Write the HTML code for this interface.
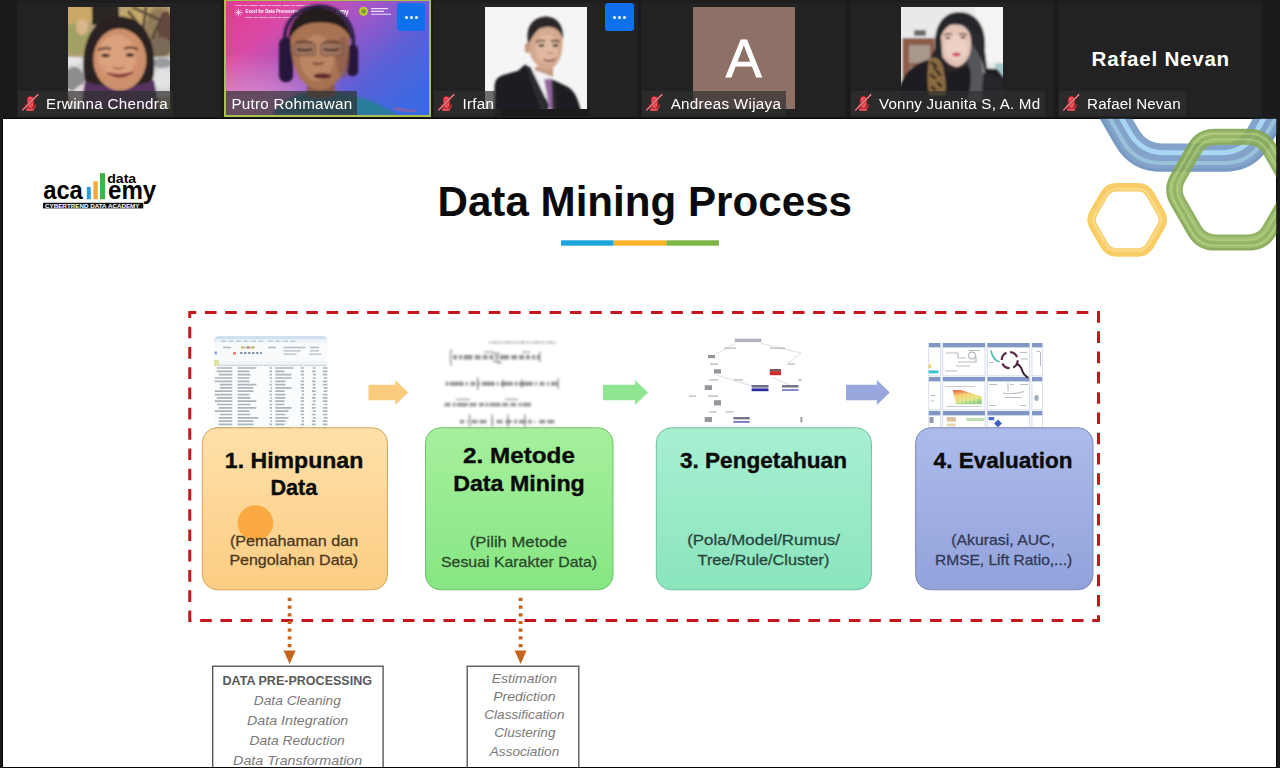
<!DOCTYPE html>
<html lang="id">
<head>
<meta charset="utf-8">
<title>Data Mining Process</title>
<style>
*{box-sizing:border-box;margin:0;padding:0}
html,body{width:1280px;height:768px;overflow:hidden;background:#1a1a1a;font-family:"Liberation Sans",sans-serif}
#app{position:relative;width:1280px;height:768px;overflow:hidden;background:#1a1a1a}
.abs{position:absolute}
/* ---------- participant strip ---------- */
.tile{position:absolute;top:0;height:117.4px;width:204.6px;background:#222222;overflow:hidden}
.tile::before{content:"";position:absolute;left:0;right:0;top:0;height:3.2px;background:#1d1d1d}
.tile.spk::before{display:none}
.tile.spk{background:#a9c04c}
.tile .ph{position:absolute;left:51.5px;top:7px;width:102px;height:102px;overflow:hidden}
.tile .av{background:#8d7167;color:#fff;text-align:center}
.tile .av span{position:absolute;left:0;right:0;top:20.3px;font-size:54px;line-height:62px;-webkit-text-stroke:.8px #fff}
.under{position:absolute;background:#1b1b1b}
.lbl{position:absolute;left:1px;top:90.6px;height:25.4px;background:rgba(48,48,48,.69);color:#fff;font-size:15.2px;line-height:25.4px;white-space:nowrap;padding-left:28.4px;overflow:hidden}
.lbl span{display:inline-block;position:relative;top:.5px;filter:blur(.3px)}
.lbl .mic{position:absolute;left:-1px;top:-1px;width:24px;height:25px}
.more{position:absolute;width:28.100px;height:28.300px;background:#0e71eb;border-radius:3px}
.more i{position:absolute;top:12.500px;width:3px;height:3px;background:#fff;border-radius:50%}
.bigname{position:absolute;left:1.6px;right:0;top:45.4px;text-align:center;color:#fff;font-weight:bold;font-size:20.6px;line-height:28px;letter-spacing:.75px}
/* ---------- slide ---------- */
#slide{position:absolute;left:3.1px;top:118.7px;width:1273.3px;height:648.2px;background:#ffffff;box-shadow:0 0 0 1px #060606}
</style>
</head>
<body>
<div id="app">

<!-- ================= PARTICIPANT STRIP ================= -->
<div id="strip">
<div class="tile" style="left:16.7px">
<svg class="ph" viewBox="0 0 102 102">
<defs><filter id="pb1" x="-5%" y="-5%" width="110%" height="110%"><feGaussianBlur stdDeviation="1.1"/></filter><clipPath id="pc1"><rect width="102" height="102"/></clipPath></defs>
<g clip-path="url(#pc1)"><g filter="url(#pb1)">
<rect x="-4" y="-4" width="110" height="110" fill="#b3a075"/>
<ellipse cx="9" cy="8" rx="16" ry="12" fill="#c9a868"/>
<ellipse cx="8" cy="32" rx="14" ry="16" fill="#a3a066"/>
<ellipse cx="14" cy="20" rx="6" ry="8" fill="#d9b58a"/>
<rect x="24" y="-4" width="27" height="22" fill="#2a2622"/>
<ellipse cx="70" cy="8" rx="18" ry="9" fill="#c4a86c"/>
<ellipse cx="92" cy="14" rx="12" ry="16" fill="#a78c60"/><ellipse cx="90" cy="24" rx="13" ry="22" fill="#8b7556" opacity=".8"/>
<path d="M60 4l14 18M78 0l-4 30M96 6l-12 26M70 26l28 18M88 30v20M64 0l30 14" stroke="#4e3f32" stroke-width="3" fill="none" opacity=".85"/>
<ellipse cx="98" cy="26" rx="8" ry="22" fill="#5a4038" opacity=".85"/>
<ellipse cx="92" cy="40" rx="12" ry="10" fill="#7a6a58"/>
<rect x="-4" y="50" width="110" height="40" fill="#d3d3d5"/>
<ellipse cx="6" cy="72" rx="10" ry="12" fill="#8d8d90"/>
<ellipse cx="4" cy="54" rx="10" ry="4" fill="#e6e6e8"/>
<ellipse cx="94" cy="56" rx="10" ry="5" fill="#9a9aa0"/>
<ellipse cx="95" cy="72" rx="10" ry="10" fill="#e2e2e4"/>
<path d="M16 70C12 34 26 9 50 9.300C76 9 89 34 86 66C85 76 81 80 75 80L26 80C20 80 17 78 16 70Z" fill="#2b2321"/>
<path d="M4 86q6-10 16-9l4 27H0z" fill="#e4d6dc"/>
<path d="M17 74q34 12 69-1l6 33H12z" fill="#57325e"/>
<ellipse cx="51.800" cy="52.500" rx="26.500" ry="31" fill="#cd906c"/>
<ellipse cx="49" cy="50" rx="19" ry="22" fill="#dba27e"/>
<path d="M24.500 44C26 24 40 13 54 14C69 14 79 27 79 46C76 33 66 22.500 50 20.500C38 21 29.500 30 24.500 44Z" fill="#2b2321"/>
<path d="M30 43q7-3.5 13-1M56 42q7-3 14 .5" stroke="#4a3028" stroke-width="2" fill="none"/>
<ellipse cx="37.5" cy="48.5" rx="4.2" ry="1.7" fill="#2e1d18"/><ellipse cx="62" cy="48" rx="4.2" ry="1.7" fill="#2e1d18"/>
<path d="M45 60q5 3.5 11 0" stroke="#a86a50" stroke-width="2" fill="none"/>
<path d="M39 66q13 9 26-1q-12 5-26 1z" fill="#8c3e3c" stroke="#8c3e3c" stroke-width="1.4"/>
<ellipse cx="33" cy="61" rx="5" ry="4" fill="#d48a78" opacity=".5"/><ellipse cx="69" cy="60" rx="5" ry="4" fill="#d48a78" opacity=".5"/>
</g></g></svg>
<div class="lbl" style="width:155.5px"><svg class="mic" viewBox="0 0 24 25"><use href="#mic"/></svg><span style="letter-spacing:0.3px">Erwinna Chendra</span></div>
</div>
<div class="tile spk" style="left:223.7px;width:207.6px;height:117.3px">
<svg class="abs" style="left:2px;top:1.300px" width="203.6" height="114.100" preserveAspectRatio="none" viewBox="0 0 203.6 113.8" font-family="Liberation Sans, sans-serif">
<defs>
<linearGradient id="vg" x1="0" y1="0.1" x2="1" y2="0.75"><stop offset="0" stop-color="#e23c93"/><stop offset=".22" stop-color="#d94aa6"/><stop offset=".5" stop-color="#9b57c9"/><stop offset=".75" stop-color="#5b60d6"/><stop offset="1" stop-color="#3a69e2"/></linearGradient>
<radialGradient id="vg2" cx="0.12" cy="0.95" r="0.5"><stop offset="0" stop-color="#efa0cc" stop-opacity=".85"/><stop offset="1" stop-color="#efa0cc" stop-opacity="0"/></radialGradient>
<filter id="pb2" x="-5%" y="-5%" width="110%" height="110%"><feGaussianBlur stdDeviation="1.2"/></filter>
<filter id="pb2s" x="-5%" y="-5%" width="110%" height="110%"><feGaussianBlur stdDeviation="0.45"/></filter>
</defs>
<rect width="203.6" height="113.8" fill="url(#vg)"/>
<rect width="203.6" height="113.8" fill="url(#vg2)"/>
<g filter="url(#pb2s)" fill="#fff">
<text x="19.5" y="12.1" font-size="4.6" font-weight="bold" textLength="54" lengthAdjust="spacingAndGlyphs">Excel for Data Processing</text>
<path d="M9.500 4.600h78M19.500 16.400h52" stroke="#fff" stroke-width="1" opacity=".55" stroke-dasharray="7 1.2 4 1 9 1.4"/>
<path d="M12.5 7.5v8M8.5 11.5h8M9.7 8.7l5.6 5.6M15.3 8.7l-5.6 5.6" stroke="#fff" stroke-width=".8" opacity=".8"/>
<text x="110" y="14" font-size="8.4" font-weight="bold" textLength="12.5" lengthAdjust="spacingAndGlyphs">emy</text>
<circle cx="137.6" cy="10.3" r="4.6" fill="#b9c93a"/><circle cx="137.6" cy="10.3" r="2.4" fill="#7d9a2a"/>
<path d="M145 7.6h17M145 10.4h13M145 13.2h20" stroke="#fff" stroke-width="1.2" opacity=".8"/>
</g>
<g filter="url(#pb2)">
<path d="M46 113.800C54 100 70 92.500 84 90.500L106 90.500C128 92.500 152 100 172 113.800Z" fill="#2b7b9c"/>
<path d="M82 82h26l2 12q-15 6-30 0z" fill="#86584a"/>
<path d="M59.500 44C55 20 74 5.500 93 5C110 5 131 18 127 50" fill="none" stroke="#2f2046" stroke-width="3.600"/>
<rect x="53" y="36.500" width="14" height="44.500" rx="6.500" fill="#28193a"/>
<rect x="120.800" y="43.500" width="11.400" height="31.500" rx="5.500" fill="#28193a"/>
<path d="M64.700 36C64 22 78 17 94 17C110 17 124 22 123.300 36C124 58 118 78 104 86C98 89.500 90 89.500 84 86C70 78 64 58 64.700 36Z" fill="#a87252"/>
<ellipse cx="91" cy="57" rx="17" ry="23" fill="#bb8663"/>
<ellipse cx="117" cy="56" rx="6.500" ry="21" fill="#875b4c" opacity=".65"/>
<path d="M62.600 41C62 22 74 7 92 6.500C110 7 125 20 125.800 41C122 28 112 21 94 21.500C78 21 67 28 62.600 41Z" fill="#241a1e"/>
<rect x="67.500" y="42" width="22" height="12.500" rx="3.500" fill="#9a7260" stroke="#6a4a40" stroke-width="1" opacity=".85"/>
<rect x="94.500" y="42" width="22" height="12.500" rx="3.500" fill="#9a7260" stroke="#6a4a40" stroke-width="1" opacity=".85"/>
<path d="M71 47.800q7.500 2.600 15 0M98 47.800q7.500 2.600 15 0" stroke="#3a2420" stroke-width="2.100" fill="none"/>
<path d="M70 41.500q8-2.500 16 0M97 41.500q8-2.500 16 0" stroke="#4a3028" stroke-width="1.600" fill="none" opacity=".8"/>
<path d="M87 61.500q5.500 3 10.500 0" stroke="#7a4a3c" stroke-width="2.200" fill="none"/>
<ellipse cx="96.300" cy="74.800" rx="9" ry="2.700" fill="#5e2c2a"/>
</g>
<path d="M168 106q10 4 22 4" stroke="#e05a6a" stroke-width="2.4" opacity=".6" fill="none" filter="url(#pb2)"/>
</svg>
<div class="lbl" style="left:2.6px;top:90.8px;height:24.4px;width:131.2px;padding-left:5.2px"><span style="letter-spacing:.26px">Putro Rohmawan</span></div>
<div class="more" style="left:173.700px;top:3.200px"><i style="left:7.300px"></i><i style="left:12.550px"></i><i style="left:17.800px"></i></div>
</div>
<div class="tile" style="left:433.1px">
<svg class="ph" viewBox="0 0 102 102">
<defs><filter id="pb3" x="-5%" y="-5%" width="110%" height="110%"><feGaussianBlur stdDeviation="0.9"/></filter><clipPath id="pc3"><rect width="102" height="102"/></clipPath></defs>
<g clip-path="url(#pc3)"><rect width="102" height="102" fill="#f5f5f5"/><g filter="url(#pb3)">
<path d="M50 60L50 72L68 76L68 58Z" fill="#c49a82"/>
<path d="M43 38C41 24 50 18 60 18C70 18 78 23 77.500 36C78 48 73 60 63 63.500C53 62 44 52 43 38Z" fill="#d4a98f"/>
<ellipse cx="62" cy="42" rx="11" ry="15" fill="#e0b9a0"/>
<ellipse cx="42.300" cy="41" rx="2.600" ry="5" fill="#c6977e"/>
<path d="M43.500 37C40 22 46 11 60 9.500C72 9.500 79 18 78 33C76 25 72 20.500 64 20C58 20 54 21 52 24C48 28 46 32 43.500 37Z" fill="#2b2629"/>
<path d="M51 35q5-2.500 9-.8M66 34.200q4.500-1.600 8.500 .6" stroke="#3a2a26" stroke-width="1.700" fill="none"/>
<ellipse cx="56.400" cy="38.600" rx="3" ry="1.300" fill="#2e2220"/><ellipse cx="70.400" cy="38.400" rx="2.800" ry="1.300" fill="#2e2220"/>
<path d="M62 45.500q3 2 6 0" stroke="#b98a72" stroke-width="1.600" fill="none"/>
<path d="M58.400 52.600q6.500 3.200 12-1" stroke="#8a4a44" stroke-width="1.800" fill="none"/>
<path d="M46 62L58 66L68 70L70 86L58 92Z" fill="#f3f1f3"/>
<path d="M59 72.500l6.500-1l8 32h-8.500z" fill="#96669f"/>
<path d="M9 104L9.500 80C10 72 13 69.500 20 67.500L33 63.700L40 57.600L64 98L63 104Z" fill="#1f1d21"/>
<path d="M66.400 72L82 79.500C90 84 93 92 96 104L69 104Z" fill="#1f1d21"/>
<path d="M40 57.600L46 61L63 96L62 104L56 104Z" fill="#2d2b31"/>
<path d="M66.400 72L69.500 76L72 104L67.500 104Z" fill="#2d2b31"/>
</g></g></svg>
<div class="under" style="left:69px;top:109px;width:87px;height:7px"></div>
<div class="lbl" style="width:61px"><svg class="mic" viewBox="0 0 24 25"><use href="#mic"/></svg><span style="letter-spacing:0.26px">Irfan</span></div>
<div class="more" style="left:172.400px;top:3.100px"><i style="left:7.300px"></i><i style="left:12.550px"></i><i style="left:17.800px"></i></div>
</div>
<div class="tile" style="left:641.3px">
<div class="ph av"><span>A</span></div>
<div class="lbl" style="width:144px"><svg class="mic" viewBox="0 0 24 25"><use href="#mic"/></svg><span style="letter-spacing:0.3px">Andreas Wijaya</span></div>
</div>
<div class="tile" style="left:849.5px">
<svg class="ph" viewBox="0 0 102 102">
<defs><filter id="pb5" x="-5%" y="-5%" width="110%" height="110%"><feGaussianBlur stdDeviation="1.1"/></filter><clipPath id="pc5"><rect width="102" height="102"/></clipPath></defs>
<g clip-path="url(#pc5)"><g filter="url(#pb5)">
<rect x="-4" y="-4" width="110" height="110" fill="#e9e9ea"/>
<rect x="74" y="-4" width="32" height="60" fill="#f4f4f2"/>
<rect x="94" y="56" width="12" height="18" fill="#a9c9c8"/>
<rect x="1.500" y="31" width="32" height="44" fill="#8c5c4a"/>
<rect x="8" y="38" width="21" height="18" fill="#a8988e"/>
<rect x="8" y="59" width="21" height="12" fill="#9a7a6a"/>
<rect x="13" y="23" width="12" height="6" fill="#6a6a66"/>
<path d="M35 50C30 20 42 5 58 5C76 5 86 20 84 44C86 60 88 74 84 86L60 86L58 50Z" fill="#2a2a2f"/>
<path d="M-2 104L-2 80C4 64 14 56 30 52L62 60L96 62L104 72L104 104Z" fill="#1e1e21"/>
<path d="M70 36C80 48 88 66 87 94L66 94C71 78 71 62 66 55Z" fill="#55555b"/>
<path d="M79 50C84 60 87 74 86.500 94L80 94C82 78 82 62 79 50Z" fill="#7d7d82"/>
<path d="M82 66L104 70L104 104L80 104Z" fill="#26262a"/>
<ellipse cx="50" cy="57" rx="13" ry="8" fill="#2a2226"/>
<path d="M38 36C36 22 44 17 54 17.500C64 17 71 24 70 38C70 50 64 58 56 60C46 58 39 50 38 36Z" fill="#e5c4b7"/>
<ellipse cx="55" cy="40" rx="11" ry="13" fill="#ecd0c4"/>
<path d="M37 40C34 22 44 8 58 8C70 8 78 16 78 30C72 20 62 15 52 17C44 19 39 28 37 40Z" fill="#26262b"/>
<path d="M38 28C35 40 32 47 28.500 52L34 58L42 58L40 30Z" fill="#26262b"/>
<path d="M43 28q4-1.500 8-.5M58 27.500q4-1 8 .5" stroke="#5a4038" stroke-width="1.500" fill="none"/>
<ellipse cx="47" cy="31" rx="2.600" ry="1.100" fill="#3a2a28"/><ellipse cx="62" cy="30.500" rx="2.600" ry="1.100" fill="#3a2a28"/>
<ellipse cx="55.500" cy="47.500" rx="4.200" ry="1.900" fill="#c94e5c"/>
<path d="M28 52C34 48 40 52 42 60C44 70 46 78 44 88L28 88C26 76 26 64 28 52Z" fill="#8a6a42"/>
<path d="M31 56l4 3M36 64l3 4M30 68l4 3M37 76l3 3M31 80l3 3M34 60v2" stroke="#2e2218" stroke-width="2.600" stroke-linecap="round"/>
</g></g></svg>
<div class="lbl" style="width:194px"><svg class="mic" viewBox="0 0 24 25"><use href="#mic"/></svg><span style="letter-spacing:0.2px">Vonny Juanita S, A. Md</span></div>
</div>
<div class="tile" style="left:1057.7px">
<div class="bigname">Rafael Nevan</div>
<div class="lbl" style="width:127.5px"><svg class="mic" viewBox="0 0 24 25"><use href="#mic"/></svg><span style="letter-spacing:0.14px">Rafael Nevan</span></div>
</div>
</div>

<!-- ================= SHARED SLIDE ================= -->
<div id="slide"></div>
<svg id="slidesvg" class="abs" style="left:0;top:0" width="1280" height="768" viewBox="0 0 1280 768" font-family="Liberation Sans, sans-serif">
<defs>
<clipPath id="cs"><rect x="3.1" y="118.7" width="1273.3" height="648.2"/></clipPath>
<filter id="b1" x="-10%" y="-10%" width="120%" height="120%"><feGaussianBlur stdDeviation="0.8"/></filter>
<filter id="b06" x="-10%" y="-10%" width="120%" height="120%"><feGaussianBlur stdDeviation="0.6"/></filter>
<linearGradient id="g1" x1="0" y1="0" x2="0" y2="1"><stop offset="0" stop-color="#fee0aa"/><stop offset="1" stop-color="#fccd83"/></linearGradient>
<linearGradient id="g2" x1="0" y1="0" x2="0" y2="1"><stop offset="0" stop-color="#a6f09c"/><stop offset="1" stop-color="#86e683"/></linearGradient>
<linearGradient id="g3" x1="0" y1="0" x2="0" y2="1"><stop offset="0" stop-color="#a8efd2"/><stop offset="1" stop-color="#8ae5bd"/></linearGradient>
<linearGradient id="g4" x1="0" y1="0" x2="0" y2="1"><stop offset="0" stop-color="#acbbeb"/><stop offset="1" stop-color="#92a3dc"/></linearGradient>
</defs>
<g clip-path="url(#cs)">
<g id="hex" filter="url(#b06)" fill="none">
<path d="M1288.9 43.1Q1300.9 63.9 1288.9 84.7L1258.8 136.8Q1246.8 157.6 1222.8 157.6L1162.6 157.6Q1138.6 157.6 1126.6 136.8L1096.5 84.7Q1084.5 63.9 1096.5 43.1L1126.6 -9.0Q1138.6 -29.8 1162.6 -29.8L1222.8 -29.8Q1246.8 -29.8 1258.8 -9.0Z" stroke="#7a9cc6" stroke-opacity=".93" stroke-width="28.4"/>
<path d="M1283.8 44.0Q1295.3 63.9 1283.8 83.8L1255.5 132.8Q1244.0 152.8 1221.0 152.8L1164.4 152.8Q1141.4 152.8 1129.9 132.8L1101.6 83.8Q1090.1 63.9 1101.6 44.0L1129.9 -5.0Q1141.4 -25.0 1164.4 -25.0L1221.0 -25.0Q1244.0 -25.0 1255.5 -5.0Z" stroke="#a9d6f2" stroke-width="5"/>
<path d="M1294.5 42.2Q1307.0 63.9 1294.5 85.6L1262.4 141.2Q1249.9 162.9 1224.9 162.9L1160.6 162.9Q1135.6 162.9 1123.1 141.2L1090.9 85.6Q1078.4 63.9 1090.9 42.2L1123.0 -13.4Q1135.5 -35.1 1160.5 -35.1L1224.9 -35.1Q1249.9 -35.1 1262.4 -13.4Z" stroke="#9cc6e0" stroke-opacity=".9" stroke-width="4"/>
<path d="M1301.7 40.5Q1315.2 63.9 1301.7 87.3L1267.5 146.6Q1254.0 170.0 1227.0 170.0L1158.5 170.0Q1131.5 170.0 1118.0 146.6L1083.7 87.3Q1070.2 63.9 1083.7 40.5L1118.0 -18.8Q1131.5 -42.2 1158.5 -42.2L1227.0 -42.2Q1254.0 -42.2 1267.5 -18.8Z" stroke="#6d8fba" stroke-opacity=".5" stroke-width="3"/>
<path d="M1286.0 177.6Q1293.0 189.7 1286.0 201.8L1269.5 230.4Q1262.5 242.5 1248.5 242.5L1215.5 242.5Q1201.5 242.5 1194.5 230.4L1178.0 201.8Q1171.0 189.7 1178.0 177.6L1194.5 149.0Q1201.5 136.9 1215.5 136.9L1248.5 136.9Q1262.5 136.9 1269.5 149.0Z" stroke="#8fb25a" stroke-opacity=".84" stroke-width="16.2"/>
<path d="M1289.1 176.7Q1296.6 189.7 1289.1 202.7L1271.8 232.7Q1264.3 245.6 1249.3 245.6L1214.7 245.6Q1199.7 245.6 1192.2 232.7L1174.9 202.7Q1167.4 189.7 1174.9 176.7L1192.2 146.7Q1199.7 133.8 1214.7 133.8L1249.3 133.8Q1264.3 133.8 1271.8 146.7Z" stroke="#b7d27c" stroke-opacity=".85" stroke-width="1.3"/>
<path d="M1283.5 178.0Q1290.2 189.7 1283.5 201.4L1267.8 228.4Q1261.1 240.1 1247.6 240.1L1216.4 240.1Q1202.9 240.1 1196.2 228.4L1180.5 201.4Q1173.8 189.7 1180.5 178.0L1196.1 151.0Q1202.9 139.3 1216.4 139.3L1247.6 139.3Q1261.1 139.3 1267.8 151.0Z" stroke="#b7d27c" stroke-opacity=".8" stroke-width="1.2"/>
<path d="M1292.6 175.8Q1300.6 189.7 1292.6 203.6L1274.3 235.3Q1266.3 249.1 1250.3 249.1L1213.7 249.1Q1197.7 249.1 1189.7 235.3L1171.4 203.6Q1163.4 189.7 1171.4 175.8L1189.7 144.1Q1197.7 130.3 1213.7 130.3L1250.3 130.3Q1266.3 130.3 1274.3 144.1Z" stroke="#7b9b4c" stroke-opacity=".5" stroke-width="2.4"/>
<path d="M1286.4 177.6Q1293.4 189.7 1286.4 201.8L1269.7 230.7Q1262.7 242.9 1248.7 242.9L1215.3 242.9Q1201.3 242.9 1194.3 230.7L1177.6 201.8Q1170.6 189.7 1177.6 177.6L1194.3 148.7Q1201.3 136.5 1215.3 136.5L1248.7 136.5Q1262.7 136.5 1269.7 148.7Z" stroke="#7b9b4c" stroke-opacity=".3" stroke-width="3"/>
<path d="M1279.6 179.3Q1285.6 189.7 1279.6 200.1L1264.8 225.7Q1258.8 236.1 1246.8 236.1L1217.2 236.1Q1205.2 236.1 1199.2 225.7L1184.4 200.1Q1178.4 189.7 1184.4 179.3L1199.2 153.7Q1205.2 143.3 1217.2 143.3L1246.8 143.3Q1258.8 143.3 1264.8 153.7Z" stroke="#7b9b4c" stroke-opacity=".4" stroke-width="2"/>
<path d="M1160.8 212.9Q1164.8 219.8 1160.8 226.7L1150.0 245.4Q1146.0 252.4 1138.0 252.4L1116.4 252.4Q1108.4 252.4 1104.4 245.4L1093.6 226.7Q1089.6 219.8 1093.6 212.9L1104.4 194.2Q1108.4 187.2 1116.4 187.2L1138.0 187.2Q1146.0 187.2 1150.0 194.2Z" stroke="#f8cd66" stroke-width="8.5"/>
<path d="M1159.2 213.7Q1162.7 219.8 1159.2 225.9L1148.5 244.5Q1145.0 250.5 1138.0 250.5L1116.5 250.5Q1109.5 250.5 1106.0 244.5L1095.2 225.9Q1091.7 219.8 1095.2 213.7L1106.0 195.1Q1109.5 189.1 1116.5 189.1L1138.0 189.1Q1145.0 189.1 1148.5 195.1Z" stroke="#fbd987" stroke-width="2.5"/>
</g>
<g id="logo" font-weight="bold">
<text x="43.2" y="199.4" textLength="39.6" lengthAdjust="spacingAndGlyphs" font-size="25" font-weight="bold" font-style="normal" fill="#000">aca</text>
<rect x="86.8" y="186.9" width="4" height="12.4" fill="#2a9fd8"/><rect x="93.4" y="181.3" width="4.4" height="18" fill="#f5a93b"/><rect x="100" y="173.1" width="5" height="26.2" fill="#3cb54a"/>
<text x="108" y="199.4" textLength="48.3" lengthAdjust="spacingAndGlyphs" font-size="25" font-weight="bold" font-style="normal" fill="#000">emy</text>
<text x="107.2" y="183.3" textLength="29.0" lengthAdjust="spacingAndGlyphs" font-size="13.4" font-weight="bold" font-style="normal" fill="#000">data</text>
<rect x="43" y="202.8" width="100.3" height="5.6" fill="#111"/>
<text x="45" y="207.6" textLength="94.5" lengthAdjust="spacingAndGlyphs" font-size="4.6" font-weight="bold" font-style="normal" fill="#fff">CYBERTREND DATA ACADEMY</text>
</g>
<text x="437.5" y="215.8" textLength="414.5" lengthAdjust="spacingAndGlyphs" font-size="42" font-weight="bold" font-style="normal" fill="#0a0a0a">Data Mining Process</text>
<rect x="561" y="240.3" width="52.7" height="5.4" fill="#1ea4dc"/><rect x="613.7" y="240.3" width="52.6" height="5.4" fill="#f9b52b"/><rect x="666.3" y="240.3" width="52.6" height="5.4" fill="#7db644"/>
<rect x="189.75" y="312.5" width="908.75" height="308" fill="none" stroke="#c5161d" stroke-width="3" stroke-dasharray="11.6 8.675" stroke-dashoffset="5.1"/>
<g id="img-sheet" filter="url(#b06)">
<path d="M214 341q0-5 5-5h103.4q5 0 5 5v87H214Z" fill="#fbfcfd"/>
<path d="M214 341q0-5 5-5h103.4q5 0 5 5v-1.5H214Z" fill="#cfe0f1"/>
<rect x="214" y="339.5" width="113.4" height="3.2" fill="#edf2f8"/>
<rect x="214" y="342.7" width="113.4" height="18.5" fill="#f8fafc"/>
<rect x="214" y="361.2" width="113.4" height="5.3" fill="#f1f4f8"/>
<path d="M221 341.2h42M268 341.2h30" stroke="#9db4cc" stroke-width="1.2" stroke-dasharray="5 2.5" opacity=".7"/>
<path d="M223 347.5h8M241 347.5h14M268 347.5h8M283.5 347.5h22M310 347.5h9M283.5 350.8h17M310 350.8h9M283.5 354.2h13M309 354.2h12" stroke="#9aa7b8" stroke-width="1.3" opacity=".75"/>
<path d="M240 353h22" stroke="#6f7f96" stroke-width="2" stroke-dasharray="2.6 1.4" opacity=".8"/>
<rect x="233" y="352" width="3" height="2.6" fill="#d9534f" opacity=".7"/><rect x="241" y="346.3" width="2.4" height="2.4" fill="#e8b23a" opacity=".8"/><rect x="247" y="346.3" width="2.4" height="2.4" fill="#d9534f" opacity=".6"/><rect x="251.5" y="346.3" width="2.4" height="2.4" fill="#e8b23a" opacity=".8"/><rect x="214.5" y="351.5" width="2.4" height="2.8" fill="#4a78c8" opacity=".7"/>
<rect x="214" y="360" width="5" height="6" fill="#d8e08a" opacity=".8"/>
<path d="M219 365.3h108" stroke="#a9b4c2" stroke-width="1.2" stroke-dasharray="1.6 .9" opacity=".7"/>
<path d="M216.8 368.0H232.3M237.5 368.0H256.4M269.5 368.0H272.0M275.3 368.0H293.5M300.7 368.0H304.0M312.8 368.0H315.7M322.8 368.0H327.4M216.8 371.3H232.3M237.5 371.3H249.4M269.5 371.3H272.0M275.3 371.3H284.5M300.7 371.3H304.0M311.8 371.3H315.7M322.8 371.3H327.4M218.8 374.6H232.3M237.5 374.6H250.4M269.5 374.6H272.0M275.3 374.6H291.5M300.7 374.6H304.0M312.8 374.6H315.7M322.8 374.6H327.4M214.8 378.0H232.3M237.5 378.0H249.4M269.5 378.0H272.0M275.3 378.0H291.5M301.7 378.0H304.0M312.8 378.0H315.7M323.8 378.0H327.4M214.8 381.3H232.3M237.5 381.3H249.4M270.5 381.3H272.0M275.3 381.3H285.5M300.7 381.3H304.0M311.8 381.3H315.7M322.8 381.3H327.4M219.8 384.6H232.3M237.5 384.6H256.4M269.5 384.6H272.0M275.3 384.6H285.5M300.7 384.6H304.0M312.8 384.6H315.7M322.8 384.6H327.4M219.8 387.9H232.3M237.5 387.9H253.4M270.5 387.9H272.0M275.3 387.9H291.5M300.7 387.9H304.0M312.8 387.9H315.7M323.8 387.9H327.4M214.8 391.2H232.3M237.5 391.2H253.4M269.5 391.2H272.0M275.3 391.2H284.5M301.7 391.2H304.0M311.8 391.2H315.7M323.8 391.2H327.4M214.8 394.6H232.3M237.5 394.6H249.4M269.5 394.6H272.0M275.3 394.6H285.5M301.7 394.6H304.0M312.8 394.6H315.7M322.8 394.6H327.4M216.8 397.9H232.3M237.5 397.9H250.4M270.5 397.9H272.0M275.3 397.9H285.5M300.7 397.9H304.0M311.8 397.9H315.7M322.8 397.9H327.4M214.8 401.2H232.3M237.5 401.2H256.4M269.5 401.2H272.0M275.3 401.2H284.5M300.7 401.2H304.0M312.8 401.2H315.7M322.8 401.2H327.4M216.8 404.5H232.3M237.5 404.5H250.4M269.5 404.5H272.0M275.3 404.5H284.5M300.7 404.5H304.0M311.8 404.5H315.7M323.8 404.5H327.4M218.8 407.8H232.3M237.5 407.8H256.4M269.5 407.8H272.0M275.3 407.8H291.5M300.7 407.8H304.0M311.8 407.8H315.7M322.8 407.8H327.4M214.8 411.2H232.3M237.5 411.2H249.4M270.5 411.2H272.0M275.3 411.2H288.5M300.7 411.2H304.0M312.8 411.2H315.7M322.8 411.2H327.4M219.8 414.5H232.3M237.5 414.5H250.4M270.5 414.5H272.0M275.3 414.5H285.5M300.7 414.5H304.0M311.8 414.5H315.7M322.8 414.5H327.4M218.8 417.8H232.3M237.5 417.8H258.4M269.5 417.8H272.0M275.3 417.8H288.5M301.7 417.8H304.0M312.8 417.8H315.7M323.8 417.8H327.4M218.8 421.1H232.3M237.5 421.1H253.4M270.5 421.1H272.0M275.3 421.1H285.5M301.7 421.1H304.0M311.8 421.1H315.7M322.8 421.1H327.4M218.8 424.4H232.3M237.5 424.4H253.4M269.5 424.4H272.0M275.3 424.4H284.5M300.7 424.4H304.0M311.8 424.4H315.7M322.8 424.4H327.4M214.8 427.8H232.3M237.5 427.8H253.4M269.5 427.8H272.0M275.3 427.8H291.5M300.7 427.8H304.0M311.8 427.8H315.7M322.8 427.8H327.4" stroke="#7d8794" stroke-width="1.7" opacity=".62"/>
</g>
<g id="img-formula" filter="url(#b1)" fill="none" stroke="#6f6f6f">
<path d="M489 342.4H556" stroke-width="2" stroke-dasharray="2.2 1.1 5 1.2 3 1.5" opacity=".55"/>
<path d="M453 357.2H539" stroke-width="4.4" stroke-dasharray="4 2 3 1.5 9 2.2 6 2 5 1.8" opacity="0.72"/>
<path d="M451.5 349.5q-2.2 8 0 16M539.8 352v10M493 353.5h7M493 361.5h7" stroke-width="1.4" opacity=".75"/>
<path d="M484 352.2h10M522 352.2h8M497 362.8h5" stroke-width="1.8" opacity=".5"/>
<path d="M445.5 383.8H557.5" stroke-width="4" stroke-dasharray="3 1.4 14 2 2 2.5 5 2.4 2 2 13 2 2 2 12 1.8" opacity="0.72"/>
<path d="M477.6 377v13M558.2 378v11M503 379.5v8.5M522 379.5v8.5" stroke-width="1.3" opacity=".75"/>
<path d="M444.5 404.6H531" stroke-width="3.8" stroke-dasharray="6 2.2 3 1.2 11 1.6 7 2.5 5 1.5 3 1.2 11 1.6 6 2" opacity="0.68"/>
<path d="M456 399.4h14M505 399.4h13" stroke-width="1.3" opacity=".7"/>
<path d="M460 421.6H558" stroke-width="3.8" stroke-dasharray="4 2.5 1 4 6 2 7 5 1 4 6 3 6 2.5 3 1.8 7 2" opacity="0.7"/>
<path d="M469.6 414.5v13.5M492.3 414.5v13.5M508 414.5v13.5M525 414.5v13.5" stroke-width="1.4" opacity=".75"/>
</g>
<g id="img-tree" filter="url(#b06)">
<rect x="734.7" y="338.6" width="26.7" height="3.6" fill="#b3b3c0"/>
<path d="M735 343.5L716 354M761 343.5L801 353L786 365M716 375L752 386M772 377L790 385" stroke="#d9d9e2" stroke-width=".9" fill="none"/>
<path d="M724 348.2h12M770 348.2h15M710 364.2h8M788 364.2h7M709 379.9h9M734 379.9h9M798 379.9h4M689 396.1h7M708 396.1h10M709 411.8h7.5M725.6 411.8h7.8" stroke="#9a9aa4" stroke-width="1.2" opacity=".7"/>
<rect x="708" y="355" width="7" height="3.2" fill="#6e6e78" opacity=".72"/>
<rect x="714" y="369.2" width="7" height="4.4" fill="#6e6e78" opacity=".72"/>
<rect x="704.7" y="385.2" width="7.3" height="4.8" fill="#6e6e78" opacity=".72"/>
<rect x="714" y="400.2" width="7" height="5.2" fill="#6e6e78" opacity=".72"/>
<rect x="704.7" y="417" width="7.3" height="5" fill="#6e6e78" opacity=".72"/>
<rect x="769.8" y="369" width="11.2" height="2.4" fill="#5a3030" opacity=".8"/><rect x="769.8" y="371.2" width="11.2" height="4" fill="#d22b2b"/>
<rect x="751.6" y="385" width="16.9" height="2.6" fill="#4a4a66" opacity=".8"/><rect x="751.6" y="388.4" width="16.9" height="2.8" fill="#2b2fa3"/>
<rect x="782" y="385" width="16.5" height="2.6" fill="#4a4a66" opacity=".75"/><rect x="782" y="389.2" width="16.5" height="1.6" fill="#4d52b5" opacity=".85"/>
<rect x="733.4" y="417" width="16.3" height="2.4" fill="#4a4a66" opacity=".75"/><rect x="733.4" y="421" width="16.3" height="1.8" fill="#4d52b5" opacity=".8"/>
<rect x="800.4" y="417" width="2" height="5.4" fill="#77777f" opacity=".7"/>
</g>
<g id="img-dash" filter="url(#b06)">
<rect x="928.7" y="343" width="113.7" height="86" fill="#f4f6fb"/>
<rect x="928.7" y="347.2" width="11.7" height="28.6" fill="#fff" stroke="#d3daeb" stroke-width=".8"/>
<rect x="928.7" y="343" width="11.7" height="4.2" fill="#8297c6"/>
<rect x="942.9" y="347.2" width="42.1" height="28.6" fill="#fff" stroke="#d3daeb" stroke-width=".8"/>
<rect x="942.9" y="343" width="42.1" height="4.2" fill="#8297c6"/>
<rect x="987.4" y="347.2" width="42.1" height="28.6" fill="#fff" stroke="#d3daeb" stroke-width=".8"/>
<rect x="987.4" y="343" width="42.1" height="4.2" fill="#8297c6"/>
<rect x="1032" y="347.2" width="10.4" height="28.6" fill="#fff" stroke="#d3daeb" stroke-width=".8"/>
<rect x="1032" y="343" width="10.4" height="4.2" fill="#8297c6"/>
<rect x="928.7" y="381.2" width="11.7" height="28.6" fill="#fff" stroke="#d3daeb" stroke-width=".8"/>
<rect x="928.7" y="377" width="11.7" height="4.2" fill="#8297c6"/>
<rect x="942.9" y="381.2" width="42.1" height="28.6" fill="#fff" stroke="#d3daeb" stroke-width=".8"/>
<rect x="942.9" y="377" width="42.1" height="4.2" fill="#8297c6"/>
<rect x="987.4" y="381.2" width="42.1" height="28.6" fill="#fff" stroke="#d3daeb" stroke-width=".8"/>
<rect x="987.4" y="377" width="42.1" height="4.2" fill="#8297c6"/>
<rect x="1032" y="381.2" width="10.4" height="28.6" fill="#fff" stroke="#d3daeb" stroke-width=".8"/>
<rect x="1032" y="377" width="10.4" height="4.2" fill="#8297c6"/>
<rect x="928.7" y="415.2" width="11.7" height="12.6" fill="#fff" stroke="#d3daeb" stroke-width=".8"/>
<rect x="928.7" y="411" width="11.7" height="4.2" fill="#8297c6"/>
<rect x="942.9" y="415.2" width="42.1" height="12.6" fill="#fff" stroke="#d3daeb" stroke-width=".8"/>
<rect x="942.9" y="411" width="42.1" height="4.2" fill="#8297c6"/>
<rect x="987.4" y="415.2" width="42.1" height="12.6" fill="#fff" stroke="#d3daeb" stroke-width=".8"/>
<rect x="987.4" y="411" width="42.1" height="4.2" fill="#8297c6"/>
<rect x="1032" y="415.2" width="10.4" height="12.6" fill="#fff" stroke="#d3daeb" stroke-width=".8"/>
<rect x="1032" y="411" width="10.4" height="4.2" fill="#8297c6"/>
<path d="M946 353h12v5h8M969 350.5h11M958 362h18v-6M956 366h14M945 371h12" stroke="#a3a7b3" stroke-width="1.1" fill="none" opacity=".8"/><circle cx="972" cy="355.5" r="3.6" fill="none" stroke="#a3a7b3" stroke-width="1"/>
<circle cx="1009.7" cy="360.2" r="8" fill="none" stroke="#5b2a48" stroke-width="2.2" stroke-dasharray="9 3.6"/>
<path d="M1016.5 364q4 1 5.5 6t6 7.6" fill="none" stroke="#3c2236" stroke-width="2"/>
<path d="M991 350.5q1.5 9 8.5 11.5" fill="none" stroke="#4fb9b0" stroke-width="1.6"/>
<path d="M1020 352.5h7M1021 359h7M989 362.5h5" stroke="#a3a7b3" stroke-width="1" opacity=".8"/>
<rect x="928.7" y="370.4" width="9.8" height="3" fill="#3fc4d4"/><rect x="928.7" y="364.5" width="2.2" height="3.4" fill="#e6d24a"/>
<path d="M1036 352q3-2 4.5 0v14" stroke="#b4b8c4" stroke-width="1" fill="none"/>
<linearGradient id="hm" x1="0" y1="0" x2="0.35" y2="1"><stop offset="0" stop-color="#e2452f"/><stop offset=".45" stop-color="#f3c94a"/><stop offset=".8" stop-color="#d7df6a"/><stop offset="1" stop-color="#7fc46a"/></linearGradient>
<path d="M952.8 390h8l21 6.5v7.8h-26z" fill="url(#hm)" opacity=".85"/>
<path d="M956 393v11M960 393v11M964 393v11M968 393v11M972 393v11M976 393v11" stroke="#fff" stroke-width=".6" opacity=".7"/>
<path d="M945 386.5h30M946 406.5h36" stroke="#b9bdc9" stroke-width="1" opacity=".8"/>
<path d="M989 384.5h8M1010 384.5h4M1020 384.5h8M1003 393q10 2 21-1.5M1005 397.5h16M989 405.5h7M1020 405.5h6M1008 383v8" stroke="#a9adb9" stroke-width="1.1" fill="none" opacity=".8"/>
<ellipse cx="1036.5" cy="398" rx="2.2" ry="3" fill="#8b9aa8" opacity=".8"/><path d="M931 395.5h4M931 401h3" stroke="#b9bdc9" stroke-width="1"/>
<rect x="946.6" y="417" width="9.3" height="4.6" fill="#d9c3a3"/><rect x="966.4" y="417.9" width="17.9" height="3.2" fill="#bfe0b4"/><rect x="946.6" y="423.5" width="9" height="3" fill="#e6d9b0"/>
<rect x="988.6" y="417" width="5.6" height="3.2" fill="#4a6fc6"/><path d="M998 419.6l4 3.8l-4 3.8l-4-3.8z" fill="#3a62c0"/>
<rect x="929.5" y="417" width="4" height="6" fill="#77809a" opacity=".8"/>
</g>
<path d="M368.5 384.7H395.3V380.1L408.2 392.5L395.3 404.9V400.3H368.5Z" fill="#fbcb7e"/>
<path d="M603 384.7H635.1V380.1L648 392.5L635.1 404.9V400.3H603Z" fill="#8fe690"/>
<path d="M846 384.7H876.9V380.1L889.8 392.5L876.9 404.9V400.3H846Z" fill="#98a7dd"/>
<rect x="202.3" y="427.8" width="185.2" height="162" rx="15" fill="url(#g1)" stroke="#d6a55c" stroke-width="1"/>
<rect x="425.5" y="427.8" width="187.5" height="162" rx="15" fill="url(#g2)" stroke="#6fbf6c" stroke-width="1"/>
<rect x="656.3" y="427.8" width="215.1" height="162" rx="15" fill="url(#g3)" stroke="#74bf9e" stroke-width="1"/>
<rect x="915.6" y="427.8" width="177.4" height="162" rx="15" fill="url(#g4)" stroke="#7e8bb8" stroke-width="1"/>
<circle cx="255.4" cy="523" r="17.8" fill="#fba63c" fill-opacity=".92"/>
<text x="224.8" y="467.7" textLength="138.5" lengthAdjust="spacingAndGlyphs" font-size="21.5" font-weight="bold" font-style="normal" fill="#0b0b0b" stroke="#0b0b0b" stroke-width=".35">1. Himpunan</text>
<text x="270.4" y="495.4" textLength="46.9" lengthAdjust="spacingAndGlyphs" font-size="21.5" font-weight="bold" font-style="normal" fill="#0b0b0b" stroke="#0b0b0b" stroke-width=".35">Data</text>
<text x="229.9" y="545.6" textLength="128.3" lengthAdjust="spacingAndGlyphs" font-size="14.6" font-weight="normal" font-style="normal" fill="#4d381c" stroke="#4d381c" stroke-width=".3">(Pemahaman dan</text>
<text x="229.4" y="565" textLength="128.8" lengthAdjust="spacingAndGlyphs" font-size="14.6" font-weight="normal" font-style="normal" fill="#4d381c" stroke="#4d381c" stroke-width=".3">Pengolahan Data)</text>
<text x="463.1" y="463" textLength="111.8" lengthAdjust="spacingAndGlyphs" font-size="21.5" font-weight="bold" font-style="normal" fill="#0b0b0b" stroke="#0b0b0b" stroke-width=".35">2. Metode</text>
<text x="453.2" y="491" textLength="131.6" lengthAdjust="spacingAndGlyphs" font-size="21.5" font-weight="bold" font-style="normal" fill="#0b0b0b" stroke="#0b0b0b" stroke-width=".35">Data Mining</text>
<text x="469.8" y="547.3" textLength="97.3" lengthAdjust="spacingAndGlyphs" font-size="14.6" font-weight="normal" font-style="normal" fill="#2c4a2a" stroke="#2c4a2a" stroke-width=".3">(Pilih Metode</text>
<text x="441" y="566.6" textLength="156" lengthAdjust="spacingAndGlyphs" font-size="14.6" font-weight="normal" font-style="normal" fill="#2c4a2a" stroke="#2c4a2a" stroke-width=".3">Sesuai Karakter Data)</text>
<text x="679.9" y="467.5" textLength="167.1" lengthAdjust="spacingAndGlyphs" font-size="21.5" font-weight="bold" font-style="normal" fill="#0b0b0b" stroke="#0b0b0b" stroke-width=".35">3. Pengetahuan</text>
<text x="687.2" y="545" textLength="152.8" lengthAdjust="spacingAndGlyphs" font-size="14.6" font-weight="normal" font-style="normal" fill="#2a463c" stroke="#2a463c" stroke-width=".3">(Pola/Model/Rumus/</text>
<text x="697.6" y="564.5" textLength="131.7" lengthAdjust="spacingAndGlyphs" font-size="14.6" font-weight="normal" font-style="normal" fill="#2a463c" stroke="#2a463c" stroke-width=".3">Tree/Rule/Cluster)</text>
<text x="933.6" y="467.5" textLength="139.0" lengthAdjust="spacingAndGlyphs" font-size="21.5" font-weight="bold" font-style="normal" fill="#0b0b0b" stroke="#0b0b0b" stroke-width=".35">4. Evaluation</text>
<text x="951.3" y="545" textLength="103.6" lengthAdjust="spacingAndGlyphs" font-size="14.6" font-weight="normal" font-style="normal" fill="#333954" stroke="#333954" stroke-width=".3">(Akurasi, AUC,</text>
<text x="935" y="564.9" textLength="137.2" lengthAdjust="spacingAndGlyphs" font-size="14.6" font-weight="normal" font-style="normal" fill="#333954" stroke="#333954" stroke-width=".3">RMSE, Lift Ratio,...)</text>
<path d="M289.6 597.8V650" stroke="#c4651f" stroke-width="3.8" stroke-dasharray="3.2 4.5" fill="none"/>
<path d="M283.6 650.5H295.6L289.6 664Z" fill="#c4651f"/>
<path d="M520.6 597.8V650" stroke="#c4651f" stroke-width="3.8" stroke-dasharray="3.2 4.5" fill="none"/>
<path d="M514.6 650.5H526.6L520.6 664Z" fill="#c4651f"/>
<rect x="212.7" y="666.2" width="170.4" height="110" fill="#fff" stroke="#4d4d4d" stroke-width="1.3"/>
<rect x="467.2" y="666.2" width="111.6" height="110" fill="#fff" stroke="#4d4d4d" stroke-width="1.3"/>
<text x="222.5" y="684.6" textLength="149.5" lengthAdjust="spacingAndGlyphs" font-size="12.6" font-weight="bold" font-style="normal" fill="#595959">DATA PRE-PROCESSING</text>
<text x="253.8" y="704.7" textLength="87.1" lengthAdjust="spacingAndGlyphs" font-size="12.6" font-weight="normal" font-style="italic" fill="#7a7a7a">Data Cleaning</text>
<text x="247" y="724.9" textLength="101.3" lengthAdjust="spacingAndGlyphs" font-size="12.6" font-weight="normal" font-style="italic" fill="#7a7a7a">Data Integration</text>
<text x="249.4" y="744.8" textLength="95.4" lengthAdjust="spacingAndGlyphs" font-size="12.6" font-weight="normal" font-style="italic" fill="#7a7a7a">Data Reduction</text>
<text x="233.1" y="765" textLength="129.1" lengthAdjust="spacingAndGlyphs" font-size="12.6" font-weight="normal" font-style="italic" fill="#7a7a7a">Data Transformation</text>
<text x="491.7" y="682.6" textLength="65.3" lengthAdjust="spacingAndGlyphs" font-size="12.6" font-weight="normal" font-style="italic" fill="#7a7a7a">Estimation</text>
<text x="493.2" y="700.6" textLength="62.3" lengthAdjust="spacingAndGlyphs" font-size="12.6" font-weight="normal" font-style="italic" fill="#7a7a7a">Prediction</text>
<text x="484.2" y="719.4" textLength="80.3" lengthAdjust="spacingAndGlyphs" font-size="12.6" font-weight="normal" font-style="italic" fill="#7a7a7a">Classification</text>
<text x="494.3" y="737.4" textLength="61.2" lengthAdjust="spacingAndGlyphs" font-size="12.6" font-weight="normal" font-style="italic" fill="#7a7a7a">Clustering</text>
<text x="489.8" y="756.1" textLength="69.4" lengthAdjust="spacingAndGlyphs" font-size="12.6" font-weight="normal" font-style="italic" fill="#7a7a7a">Association</text>
</g></svg>

<svg width="0" height="0" style="position:absolute">
  <defs>
    <g id="mic">
      <path d="M10 9.500a3.500 3.500 0 0 1 7 0v5.500a3.500 3.500 0 0 1 -7 0z" fill="#ee4f5b" stroke="#7c1518" stroke-width=".9"/>
      <path d="M8.600 14.500a4.900 4.900 0 0 0 9.800 0" fill="none" stroke="#d7363f" stroke-width="1.200"/>
      <path d="M9.300 19.800h7.400" stroke="#ee4f5b" stroke-width="2.200"/>
      <path d="M5.300 20.400L21.200 4.300" stroke="#6a1a1c" stroke-width="2.600" opacity=".55"/>
      <path d="M5.300 20.400L21.200 4.300" stroke="#ee8d90" stroke-width="1.300"/>
    </g>
  </defs>
</svg>
</div>
</body>
</html>
